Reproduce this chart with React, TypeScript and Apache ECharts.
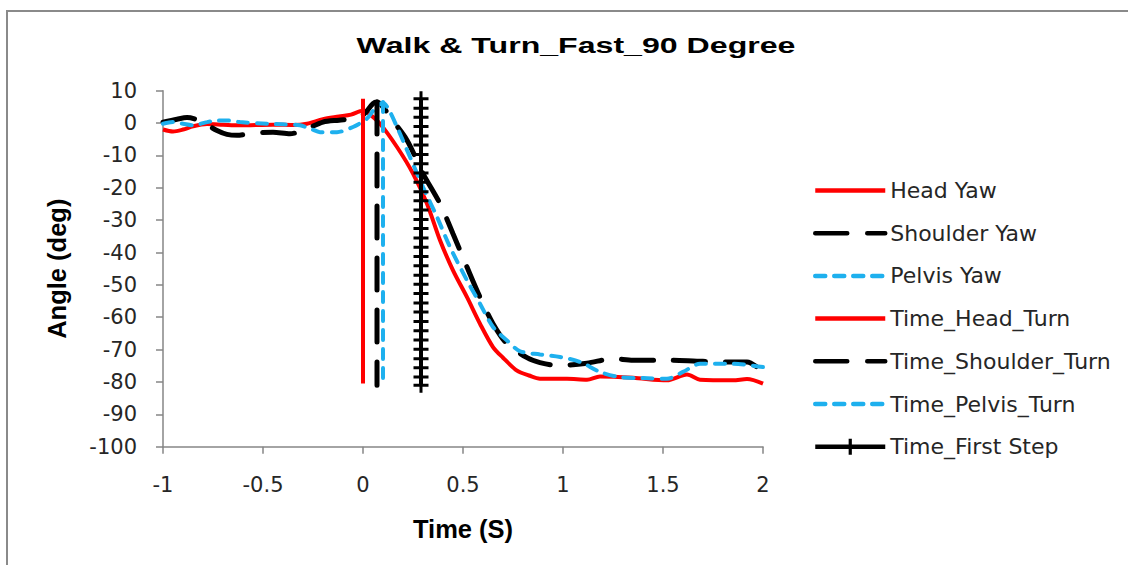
import React, { useEffect, useRef } from "react";
import * as echarts from "echarts";

const titleText = "Walk & Turn_Fast_90 Degree";
const xAxisName = "Time (S)";
const yAxisName = "Angle (deg)";

const seriesNames = [
  "Head Yaw",
  "Shoulder Yaw",
  "Pelvis Yaw",
  "Time_Head_Turn",
  "Time_Shoulder_Turn",
  "Time_Pelvis_Turn",
  "Time_First Step",
];

const headYaw: [number, number][] = [
  [-1.0, -2.0], [-0.95, -2.6], [-0.9, -2.0], [-0.85, -1.0], [-0.78, -0.3], [-0.7, -0.5],
  [-0.62, -0.7], [-0.45, -0.5], [-0.35, -0.6], [-0.28, -0.2], [-0.2, 1.2], [-0.12, 2.0],
  [-0.06, 2.6], [0.0, 3.8], [0.02, 3.4], [0.085, -0.2], [0.17, -7.4], [0.25, -15.6],
  [0.32, -24.9], [0.385, -36.2], [0.45, -45.5], [0.52, -53.8], [0.585, -62], [0.65, -69.2],
  [0.7, -72.5], [0.77, -76.5], [0.83, -78.0], [0.885, -79.0], [1.02, -79.0], [1.12, -79.3],
  [1.185, -78.3], [1.35, -78.7], [1.52, -79.5], [1.62, -77.7], [1.685, -79.3], [1.85, -79.5],
  [1.92, -79.1], [2.0, -80.5],
];

const shoulderYaw: [number, number][] = [
  [-1.0, 0.3], [-0.93, 1.2], [-0.88, 1.7], [-0.82, 0.8], [-0.73, -2.3], [-0.68, -3.5],
  [-0.63, -3.8], [-0.565, -3.3], [-0.45, -2.8], [-0.365, -3.3], [-0.3, -2.3], [-0.2, 0.3],
  [-0.12, 0.9], [-0.05, 1.4], [0.0, 2.5], [0.05, 6.0], [0.07, 6.5], [0.1, 5.0], [0.135, 1.9],
  [0.22, -5.3], [0.3, -15.6], [0.385, -24.9], [0.45, -34.2], [0.52, -44.5], [0.585, -53.8],
  [0.65, -62], [0.72, -68.2], [0.82, -72.5], [0.885, -74.0], [0.97, -74.9], [1.12, -74.2],
  [1.25, -72.8], [1.35, -73.3], [1.52, -73.3], [1.65, -73.5], [1.785, -73.8], [1.92, -73.8],
  [2.0, -77.0],
];

const pelvisYaw: [number, number][] = [
  [-1.0, -0.2], [-0.95, 0.3], [-0.9, -0.2], [-0.85, -0.7], [-0.78, 0.3], [-0.73, 0.8],
  [-0.68, 0.8], [-0.615, 0.3], [-0.48, -0.2], [-0.4, -0.4], [-0.315, -0.7], [-0.26, -1.8],
  [-0.215, -2.8], [-0.13, -2.8], [-0.05, -1.2], [0.02, 1.4], [0.06, 4.5], [0.1, 6.3],
  [0.13, 4.0], [0.17, -1.2], [0.235, -10.5], [0.3, -19.8], [0.37, -29], [0.435, -38.3],
  [0.52, -48.6], [0.585, -55.8], [0.65, -63], [0.72, -67.2], [0.785, -70.5], [0.885, -71.5],
  [0.985, -72.3], [1.085, -73.8], [1.185, -76.9], [1.285, -78.5], [1.4, -78.8], [1.52, -79.0],
  [1.6, -76.9], [1.685, -74.4], [1.85, -74.4], [2.0, -75.4],
];

const timeHeadTurn: [number, number][] = [[0, 7.5], [0, -80.5]];
const timeShoulderTurn: [number, number][] = [[0.07, 6.5], [0.07, -81]];
const timePelvisTurn: [number, number][] = [[0.1, 6.5], [0.1, -81]];

const firstStepX = 0.29;
const firstStepY = [
  7.5, 4.6, 1.8, -1.1, -4.0, -6.8, -9.7, -12.6, -15.4, -18.3, -21.2, -24.0, -26.9, -29.8,
  -32.6, -35.5, -38.4, -41.2, -44.1, -47.0, -49.8, -52.7, -55.6, -58.4, -61.3, -64.2, -67.0,
  -69.9, -72.8, -75.6, -78.5, -81.0,
];

const RED = "#ff0000";
const BLACK = "#000000";
const BLUE = "#1eb0ee";
const AXIS = "#868686";
const TEXT = "#262626";
const LABEL_FONT = "DejaVu Sans";

const plusPath = "path://M0,6H15V9H0Z M6,0H9V15H6Z";

export default function App() {
  const ref = useRef<HTMLDivElement>(null);

  useEffect(() => {
    if (!ref.current) return;
    const chart = echarts.init(ref.current, undefined, { renderer: "svg" });

    const longDash = [32, 20];
    const shortDash = [10, 9];

    const legendData = seriesNames.map((name, i) =>
      i === 6 ? { name } : { name, itemStyle: { opacity: 0 } }
    );

    const option: any = {
      animation: false,
      backgroundColor: "#ffffff",
      graphic: [
        {
          type: "rect",
          shape: { x: 7, y: 11, width: 1140, height: 580 },
          style: { fill: "none", stroke: "#8a8a8a", lineWidth: 2 },
          silent: true,
        },
        {
          type: "text",
          x: 576,
          y: 45,
          scaleX: 1.46,
          style: {
            text: titleText,
            font: 'bold 22px "Liberation Sans"',
            fill: BLACK,
            textAlign: "center",
            textVerticalAlign: "middle",
            align: "center",
            verticalAlign: "middle",
          },
        },
      ],
      grid: { left: 163, top: 90.7, width: 600, height: 356, containLabel: false },
      legend: {
        orient: "vertical",
        left: 813,
        top: 179.5,
        padding: 0,
        itemWidth: 70,
        itemHeight: 20,
        itemGap: 20.7,
        data: legendData,
        lineStyle: { width: 4.5 },
        textStyle: {
          fontFamily: LABEL_FONT,
          fontSize: 22,
          color: TEXT,
          lineHeight: 20,
          padding: [0, 0, 0, 0],
        },
      },
      xAxis: {
        type: "value",
        min: -1,
        max: 2,
        interval: 0.5,
        name: xAxisName,
        nameLocation: "middle",
        nameGap: 69,
        nameTextStyle: {
          fontFamily: "Liberation Sans",
          fontWeight: "bold",
          fontSize: 25.5,
          color: BLACK,
        },
        axisLine: { onZero: false, lineStyle: { color: AXIS, width: 1.5 } },
        axisTick: { show: true, length: 7, lineStyle: { color: AXIS, width: 1.5 } },
        axisLabel: { margin: 28, fontFamily: LABEL_FONT, fontSize: 21, color: TEXT },
        splitLine: { show: false },
      },
      yAxis: {
        type: "value",
        min: -100,
        max: 10,
        interval: 10,
        name: yAxisName,
        nameLocation: "middle",
        nameGap: 93,
        nameTextStyle: {
          fontFamily: "Liberation Sans",
          fontWeight: "bold",
          fontSize: 25.5,
          color: BLACK,
        },
        axisLine: { show: true, onZero: false, lineStyle: { color: AXIS, width: 1.5 } },
        axisTick: { show: true, length: 7, lineStyle: { color: AXIS, width: 1.5 } },
        axisLabel: { margin: 26, fontFamily: LABEL_FONT, fontSize: 21, color: TEXT },
        splitLine: { show: false },
      },
      series: [
        {
          name: seriesNames[0],
          type: "line",
          data: headYaw,
          symbol: "none",
          smooth: 0.3,
          lineStyle: { color: RED, width: 4 },
          itemStyle: { color: RED },
        },
        {
          name: seriesNames[1],
          type: "line",
          data: shoulderYaw,
          symbol: "none",
          smooth: 0.3,
          lineStyle: { color: BLACK, width: 5, type: longDash, cap: "round" },
          itemStyle: { color: BLACK },
        },
        {
          name: seriesNames[2],
          type: "line",
          data: pelvisYaw,
          symbol: "none",
          smooth: 0.3,
          lineStyle: { color: BLUE, width: 4, type: shortDash, cap: "round" },
          itemStyle: { color: BLUE },
        },
        {
          name: seriesNames[3],
          type: "line",
          data: timeHeadTurn,
          symbol: "none",
          lineStyle: { color: RED, width: 4 },
          itemStyle: { color: RED },
        },
        {
          name: seriesNames[4],
          type: "line",
          data: timeShoulderTurn,
          symbol: "none",
          lineStyle: { color: BLACK, width: 5, type: longDash, cap: "round" },
          itemStyle: { color: BLACK },
        },
        {
          name: seriesNames[5],
          type: "line",
          data: timePelvisTurn,
          symbol: "none",
          lineStyle: { color: BLUE, width: 4, type: shortDash, cap: "round" },
          itemStyle: { color: BLUE },
        },
        {
          name: seriesNames[6],
          type: "line",
          data: firstStepY.map((y) => [firstStepX, y]),
          symbol: plusPath,
          symbolSize: 15,
          showSymbol: true,
          lineStyle: { color: BLACK, width: 4 },
          itemStyle: { color: BLACK },
        },
      ],
    };

    chart.setOption(option);
    return () => chart.dispose();
  }, []);

  return (
    <div
      ref={ref}
      style={{ position: "fixed", left: 0, top: 0, width: 1128, height: 565, background: "#fff" }}
    />
  );
}
